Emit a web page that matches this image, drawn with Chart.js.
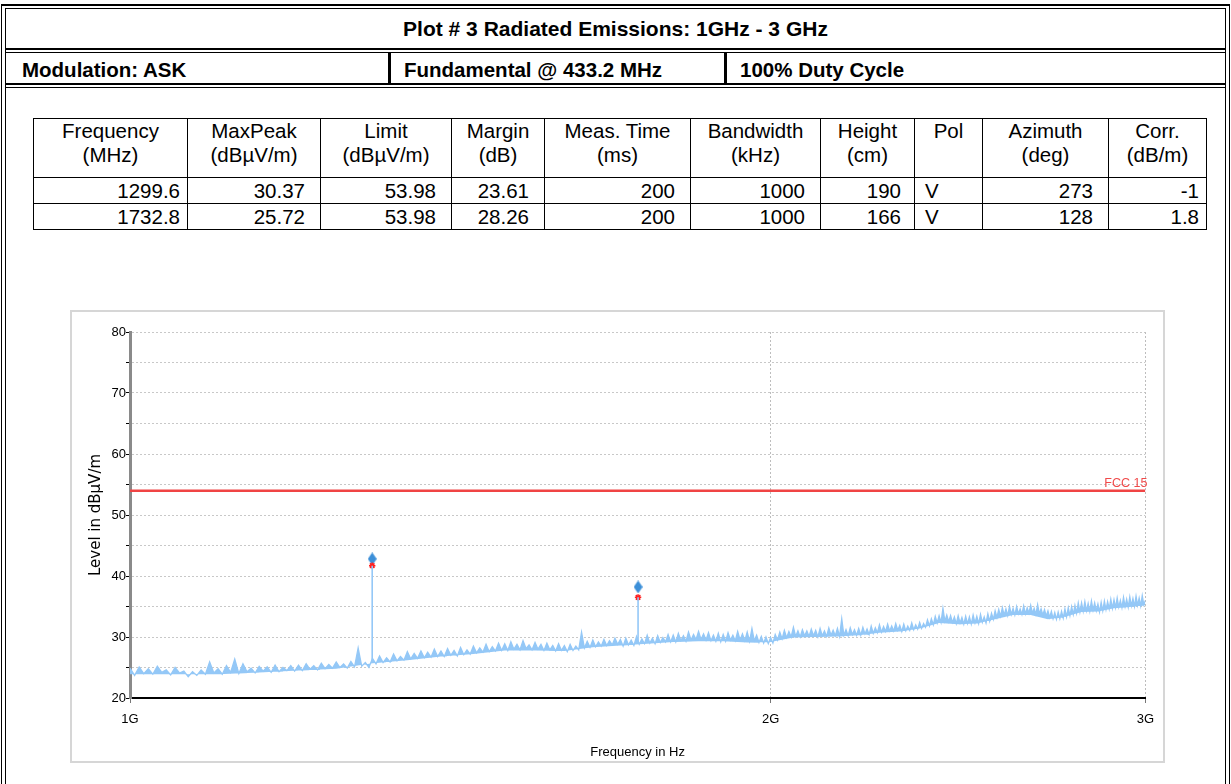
<!DOCTYPE html>
<html>
<head>
<meta charset="utf-8">
<script src="https://cdn.jsdelivr.net/npm/chart.js@4.4.0/dist/chart.umd.min.js"></script>
<style>
  body { margin: 0; background: #fff; }
  #page { position: relative; width: 1231px; height: 784px; overflow: hidden; font-family: "Liberation Sans", Arial, sans-serif; }
  .ln { position: absolute; background: #000; }
  .hdr { position: absolute; font-weight: bold; color: #000; white-space: nowrap; }
  #results { position: absolute; left: 33px; top: 118px; border-collapse: collapse; table-layout: fixed; font-size: 20.5px; color: #000; }
  #results td, #results th { border: 1px solid #000; padding: 0 15px 0 4px; font-weight: normal; white-space: nowrap; }
  #results th { height: 58px; vertical-align: top; text-align: center; line-height: 24px; padding: 0 2px; padding-top: 0; }
  #results td { height: 25px; line-height: 25px; text-align: right; }
  #results td.c0, #results td.c9 { padding-right: 7px; }
  #results td.c6 { padding-right: 13px; }
  #results td.c7 { text-align: left; padding-left: 10px; }
  #chartBox { position: absolute; left: 70px; top: 310px; width: 1095px; height: 453px; box-sizing: border-box; border: 2px solid #d6d6d6; }
  #chart { position: absolute; left: 0; top: 0; }
</style>
</head>
<body>
<div id="page">
  <!-- outer frame -->
  <div class="ln" style="left:1px;top:4px;width:1229px;height:2px"></div>
  <div class="ln" style="left:1px;top:4px;width:1px;height:780px"></div>
  <div class="ln" style="left:1229px;top:4px;width:1px;height:780px"></div>
  <div class="ln" style="left:5px;top:8px;width:1221px;height:1px"></div>
  <div class="ln" style="left:5px;top:8px;width:1px;height:776px"></div>
  <div class="ln" style="left:1225px;top:8px;width:1px;height:776px"></div>
  <div class="ln" style="left:5px;top:48px;width:1221px;height:2px"></div>
  <div class="ln" style="left:5px;top:52px;width:1221px;height:1px"></div>
  <div class="ln" style="left:5px;top:83px;width:1221px;height:2px"></div>
  <div class="ln" style="left:5px;top:87px;width:1221px;height:1px"></div>
  <div class="ln" style="left:388px;top:52px;width:3px;height:32px"></div>
  <div class="ln" style="left:724px;top:52px;width:3px;height:32px"></div>

  <div class="hdr" style="left:5px;width:1221px;top:17px;text-align:center;font-size:21px">Plot # 3 Radiated Emissions: 1GHz - 3 GHz</div>
  <div class="hdr" style="left:22px;top:58px;font-size:20.5px">Modulation: ASK</div>
  <div class="hdr" style="left:404px;top:58px;font-size:20.5px">Fundamental @ 433.2 MHz</div>
  <div class="hdr" style="left:740px;top:58px;font-size:20.5px">100% Duty Cycle</div>

  <table id="results"></table>

  <div id="chartBox"></div>
  <canvas id="chart" width="1091" height="449" style="left:72px;top:312px;width:1091px;height:449px"></canvas>
</div>

<script>
// ---- table values ----
const tableHead = [
  ["Frequency", "(MHz)"], ["MaxPeak", "(dBµV/m)"], ["Limit", "(dBµV/m)"], ["Margin", "(dB)"],
  ["Meas. Time", "(ms)"], ["Bandwidth", "(kHz)"], ["Height", "(cm)"], ["Pol", ""],
  ["Azimuth", "(deg)"], ["Corr.", "(dB/m)"]
];
const rowFreq = ["1299.6", "1732.8"];
const rowMaxPeak = ["30.37", "25.72"];
const rowLimit = ["53.98", "53.98"];
const rowMargin = ["23.61", "28.26"];
const rowMeasTime = ["200", "200"];
const rowBandwidth = ["1000", "1000"];
const rowHeight = ["190", "166"];
const rowPol = ["V", "V"];
const rowAzimuth = ["273", "128"];
const rowCorr = ["-1", "1.8"];

// ---- chart values ----
// sweep: 1000 MHz .. 3000 MHz, one reading every 5 MHz
const sweepStartMHz = 1000;
const sweepStepMHz = 5;
const traceLevels = [
  24.9, 23.7, 25.1, 24.0, 24.8, 23.9, 25.2, 24.2, 24.6, 23.8, 25.0, 24.1, 24.4, 23.5, 24.3, 23.7, 24.6, 23.9, 25.9, 24.1,
  24.8, 23.9, 25.3, 24.2, 26.4, 24.0, 25.6, 24.3, 24.9, 24.1, 25.2, 24.4, 25.1, 24.2, 25.4, 24.3, 25.0, 24.5, 25.3, 24.4,
  25.4, 24.5, 25.6, 24.7, 25.3, 24.6, 25.7, 24.8, 25.5, 24.9, 25.9, 25.0, 25.6, 24.9, 26.0, 25.1, 28.2, 25.2, 25.8, 25.0,
  26.5, 25.6, 26.9, 25.8, 26.6, 25.9, 27.2, 26.1, 26.8, 26.2, 27.6, 26.4, 27.3, 26.5, 27.7, 26.6, 27.5, 26.7, 28.0, 26.8,
  27.7, 26.8, 28.1, 27.0, 27.8, 26.9, 28.3, 27.1, 27.9, 27.2, 28.5, 27.4, 28.2, 27.5, 28.8, 27.6, 28.4, 27.7, 29.0, 27.8,
  28.9, 27.8, 29.2, 28.0, 28.8, 27.9, 29.4, 28.1, 28.7, 27.9, 29.1, 28.0, 28.8, 27.8, 29.0, 27.9, 28.6, 27.7, 28.9, 27.8,
  28.6, 27.6, 28.8, 27.8, 28.5, 27.9, 30.8, 28.2, 29.3, 28.3, 29.5, 28.4, 29.2, 28.5, 29.6, 28.6, 29.4, 28.7, 29.8, 28.8,
  29.6, 28.5, 29.8, 28.7, 29.5, 28.6, 30.1, 28.8, 29.7, 28.9, 30.3, 29.0, 29.8, 28.9, 30.2, 29.1, 29.9, 29.2, 30.4, 29.2,
  30.3, 29.2, 30.6, 29.4, 30.2, 29.3, 30.8, 29.5, 30.4, 29.6, 30.9, 29.6, 30.5, 29.5, 30.7, 29.4, 30.3, 29.3, 30.6, 29.2,
  30.4, 29.3, 30.7, 29.5, 30.3, 29.4, 30.9, 29.5, 30.5, 29.4, 30.8, 29.3, 31.4, 29.4, 30.3, 29.1, 30.1, 29.0, 30.0, 28.9,
  29.9, 29.0, 30.4, 29.5, 30.8, 29.7, 31.1, 29.9, 30.9, 30.0, 31.6, 30.1, 31.0, 30.0, 31.2, 30.2, 31.0, 30.1, 31.3, 30.2,
  31.1, 30.0, 31.4, 30.2, 31.0, 30.1, 31.5, 30.3, 31.1, 30.2, 31.4, 30.1, 33.0, 30.3, 31.2, 30.2, 31.5, 30.4, 31.2, 30.3,
  31.4, 30.3, 31.6, 30.5, 31.3, 30.4, 31.8, 30.6, 31.5, 30.7, 32.0, 30.8, 31.7, 30.9, 32.1, 31.0, 31.8, 31.0, 32.2, 31.1,
  31.9, 30.9, 32.1, 31.0, 31.8, 31.1, 32.3, 31.2, 32.0, 31.3, 32.4, 31.4, 32.2, 31.6, 32.8, 31.8, 33.0, 32.0, 33.4, 32.3,
  33.5, 32.4, 34.7, 32.6, 33.6, 32.5, 33.5, 32.4, 33.3, 32.2, 33.5, 32.3, 33.2, 32.1, 33.4, 32.2, 33.3, 32.1, 33.6, 32.3,
  33.4, 32.2, 33.7, 32.4, 33.3, 32.3, 33.8, 32.6, 33.9, 32.9, 34.3, 33.2, 34.5, 33.4, 34.8, 33.6, 34.6, 33.5, 35.0, 33.7,
  34.7, 33.6, 35.0, 33.8, 34.6, 33.7, 35.1, 33.8, 34.8, 33.9, 35.2, 33.9, 34.7, 33.7, 35.3, 33.8, 34.6, 33.6, 34.5, 33.4,
  34.3, 33.2, 34.2, 33.0, 34.0, 32.9, 34.1, 33.0, 34.2, 33.1, 34.6, 33.3, 34.8, 33.5, 35.0, 33.7, 35.2, 33.9, 35.6, 34.1,
  35.6, 34.2, 35.8, 34.3, 35.5, 34.2, 35.9, 34.4, 35.6, 34.3, 35.4, 34.1, 35.7, 34.3, 35.9, 34.5, 35.8, 34.6, 36.2, 34.7,
  36.1, 34.8, 36.4, 34.9, 36.0, 34.8, 36.5, 35.0, 36.2, 34.9, 36.6, 35.1, 36.3, 35.0, 36.7, 35.2, 36.4, 35.1, 36.8, 35.3,
  36.0
];

// middle of the noise band, read every 50 MHz (the band is filled from here to the trace)
const floorStartMHz = 1000;
const floorStepMHz = 50;
const traceFloor = [
  23.9, 23.9, 23.9, 24.2, 24.5, 24.8, 25.7, 26.2, 26.8, 27.2,
  27.8, 27.8, 27.7, 28.3, 28.6, 28.9, 29.2, 29.3, 29.3, 29.1,
  29.2, 29.9, 30.0, 30.1, 30.3, 30.7, 30.9, 31.4, 32.3, 32.1,
  32.2, 32.9, 33.6, 33.6, 32.9, 33.3, 34.1, 34.2, 34.7, 34.9,
  35.2
];

// the two emissions found in the scan
const peakFreqMHz = [1299.6, 1732.8];
const peakBaseLevel = [26.0, 29.0];
const peakFinalLevel = [41.7, 36.5];   // red asterisks
const peakMaxLevel = [42.8, 38.2];     // blue diamonds

const limitFreqMHz = [1000, 3000];
const limitLevel = [53.98, 53.98];
const limitName = "FCC 15";

const xTickValues = [1000, 2000, 3000];
const xTickLabels = ["1G", "2G", "3G"];

// ---- build the table ----
const table = document.getElementById("results");
const colWidths = [154, 133, 131, 93, 146, 130, 94, 68, 126, 98];
const cols = [rowFreq, rowMaxPeak, rowLimit, rowMargin, rowMeasTime, rowBandwidth, rowHeight, rowPol, rowAzimuth, rowCorr];

let html = "<colgroup>" + colWidths.map(w => `<col style="width:${w}px">`).join("") + "</colgroup>";
html += "<tr>" + tableHead.map(h => `<th>${h[0]}<br>${h[1]}</th>`).join("") + "</tr>";
rowFreq.forEach((_, r) => {
  html += "<tr>" + cols.map((c, i) => `<td class="c${i}">${c[r]}</td>`).join("") + "</tr>";
});
table.innerHTML = html;

// ---- chart ----
const SANS = '"Liberation Sans", Arial, sans-serif';
const traceColor = "#94c8f7";

const tracePts = traceLevels.map((y, i) => ({ x: sweepStartMHz + i * sweepStepMHz, y }));
const floorPts = traceFloor.map((y, i) => ({ x: floorStartMHz + i * floorStepMHz, y }));

const spikePts = [];
peakFreqMHz.forEach((f, i) => {
  spikePts.push({ x: f, y: peakBaseLevel[i] });
  spikePts.push({ x: f, y: peakFinalLevel[i] });
  spikePts.push({ x: f, y: null });
});

// tall narrow diamond used for the max peak marker
const diamond = document.createElement("canvas");
diamond.width = 9;
diamond.height = 13;
const dctx = diamond.getContext("2d");
dctx.fillStyle = "#3c8fd8";
dctx.beginPath();
dctx.moveTo(4.5, 0);
dctx.lineTo(9, 6.5);
dctx.lineTo(4.5, 13);
dctx.lineTo(0, 6.5);
dctx.closePath();
dctx.fill();

const limitLabel = {
  id: "limitLabel",
  afterDatasetsDraw(chart) {
    const { ctx, scales } = chart;
    ctx.save();
    ctx.font = "12.5px " + SANS;
    ctx.fillStyle = "#f04a4a";
    ctx.textAlign = "right";
    ctx.textBaseline = "alphabetic";
    ctx.fillText(limitName, scales.x.getPixelForValue(limitFreqMHz[1]) + 2, scales.y.getPixelForValue(limitLevel[1]) - 4);
    ctx.restore();
  }
};

new Chart(document.getElementById("chart"), {
  type: "line",
  data: {
    datasets: [
      {
        data: tracePts, borderColor: traceColor, borderWidth: 1.3, pointRadius: 0, tension: 0,
        fill: { target: 1, above: traceColor, below: traceColor }
      },
      { data: floorPts, borderWidth: 0, borderColor: "rgba(0,0,0,0)", pointRadius: 0, fill: false },
      { data: spikePts, borderColor: traceColor, borderWidth: 1.6, pointRadius: 0, spanGaps: false, fill: false },
      { data: limitFreqMHz.map((x, i) => ({ x, y: limitLevel[i] })), borderColor: "#f04444", borderWidth: 2.5, pointRadius: 0, fill: false },
      {
        data: peakFreqMHz.map((x, i) => ({ x, y: peakFinalLevel[i] })), showLine: false,
        pointStyle: "star", pointRadius: 3.2, borderColor: "#ff2020", borderWidth: 1.5, backgroundColor: "#ff2020"
      },
      {
        data: peakFreqMHz.map((x, i) => ({ x, y: peakMaxLevel[i] })), showLine: false,
        pointStyle: diamond, pointRadius: 6
      }
    ]
  },
  options: {
    responsive: false,
    animation: false,
    layout: { padding: { top: 20, right: 15, left: 0, bottom: 0 } },
    plugins: { legend: { display: false }, tooltip: { enabled: false } },
    scales: {
      x: {
        type: "logarithmic",
        min: 1000,
        max: 3000,
        afterBuildTicks: (s) => { s.ticks = xTickValues.map(v => ({ value: v })); },
        afterFit: (s) => { s.height = 63; },
        ticks: {
          autoSkip: false, maxRotation: 0, padding: 9, color: "#000",
          font: { family: SANS, size: 13 },
          callback: (v) => xTickLabels[xTickValues.indexOf(v)]
        },
        grid: {
          color: (c) => (c.tick && c.tick.value === 1000 ? "rgba(0,0,0,0)" : "#bdbdbd"),
          tickColor: "#777", tickLength: 5
        },
        border: { color: "#000", width: 2, dash: [2, 2] },
        title: { display: true, text: "Frequency in Hz", color: "#000", font: { family: SANS, size: 13 }, padding: { top: 0, bottom: 1 } }
      },
      y: {
        min: 20,
        max: 80,
        afterFit: (s) => { s.width = 58; },
        ticks: {
          stepSize: 5, padding: 0, color: "#000",
          font: { family: SANS, size: 13 },
          callback: (v) => (v % 10 === 0 ? v : "")
        },
        grid: {
          color: (c) => (c.tick && c.tick.value === 20 ? "rgba(0,0,0,0)" : "#c8c8c8"),
          tickColor: "#000", tickLength: 4
        },
        border: { color: "#8a8a8a", width: 3, dash: [2, 2] },
        title: { display: true, text: "Level in dBµV/m", color: "#000", font: { family: "DejaVu Sans", size: 15 }, padding: { top: 15, bottom: 0 } }
      }
    }
  },
  plugins: [limitLabel]
});
</script>
</body>
</html>
